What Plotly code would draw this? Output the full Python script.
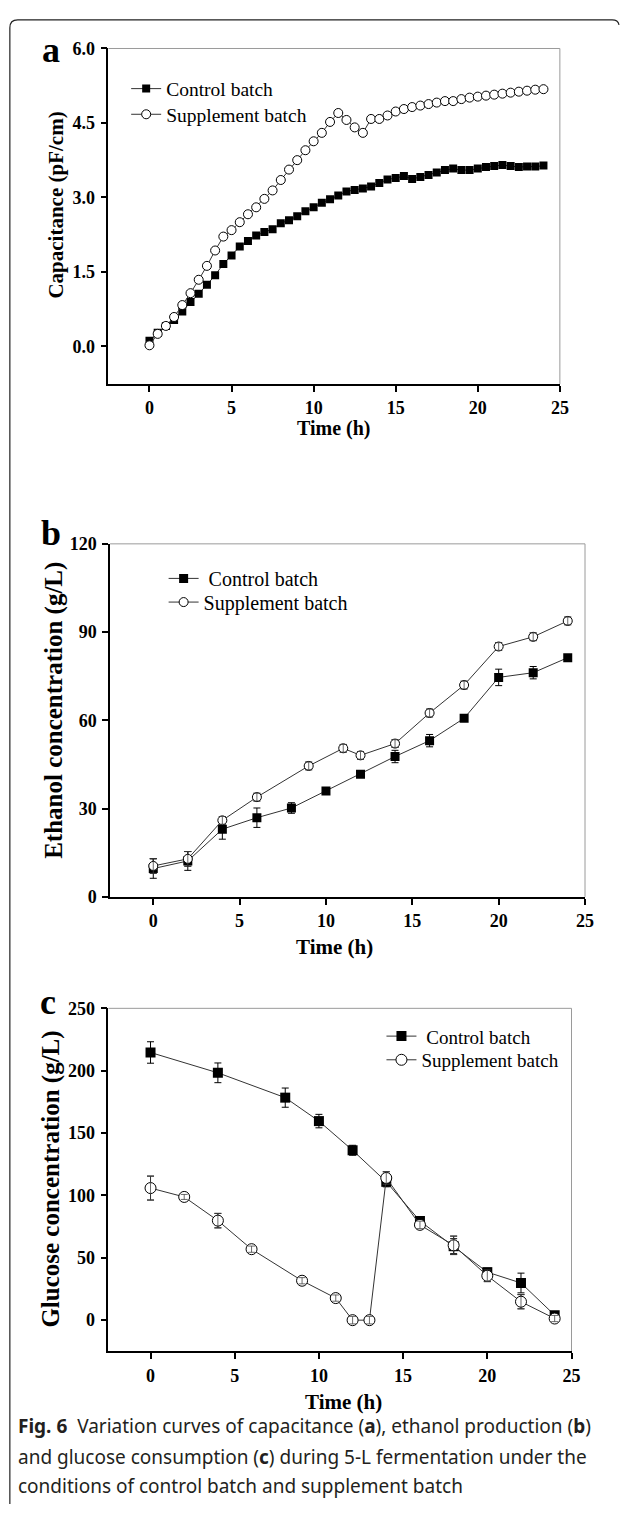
import plotly.graph_objects as go

# ---------------- data ----------------
# Panel a: capacitance (pF/cm), every 0.5 h
time_a = [0, 0.5, 1, 1.5, 2, 2.5, 3, 3.5, 4, 4.5, 5, 5.5, 6, 6.5, 7, 7.5, 8, 8.5, 9, 9.5,
          10, 10.5, 11, 11.5, 12, 12.5, 13, 13.5, 14, 14.5, 15, 15.5, 16, 16.5, 17, 17.5,
          18, 18.5, 19, 19.5, 20, 20.5, 21, 21.5, 22, 22.5, 23, 23.5, 24]
cap_control = [0.11, 0.27, 0.41, 0.53, 0.70, 0.89, 1.06, 1.24, 1.43, 1.66, 1.83, 2.01, 2.12,
               2.23, 2.30, 2.36, 2.48, 2.54, 2.62, 2.72, 2.80, 2.89, 2.96, 3.04, 3.12, 3.15,
               3.18, 3.22, 3.29, 3.36, 3.39, 3.43, 3.37, 3.41, 3.45, 3.50, 3.55, 3.58, 3.55,
               3.55, 3.58, 3.61, 3.63, 3.65, 3.63, 3.61, 3.62, 3.62, 3.64]
cap_supplement = [0.02, 0.25, 0.41, 0.59, 0.83, 1.07, 1.34, 1.62, 1.93, 2.21, 2.34, 2.50, 2.66,
                  2.80, 2.97, 3.14, 3.35, 3.56, 3.75, 3.95, 4.13, 4.30, 4.52, 4.70, 4.56, 4.41,
                  4.30, 4.58, 4.58, 4.65, 4.73, 4.78, 4.82, 4.85, 4.88, 4.91, 4.94, 4.94, 4.98,
                  5.01, 5.03, 5.05, 5.07, 5.09, 5.11, 5.13, 5.15, 5.17, 5.18]

# Panel b: ethanol (g/L)
time_b_control = [0, 2, 4, 6, 8, 10, 12, 14, 16, 18, 20, 22, 24]
eth_control = [9.6, 12.2, 23.0, 26.9, 30.2, 36.0, 41.7, 47.7, 53.1, 60.7, 74.6, 76.2, 81.3]
eth_control_err = [3.3, 3.2, 3.4, 3.3, 1.8, 0.8, 0.8, 2.1, 2.1, 0.8, 2.8, 2.1, 0.8]
time_b_supplement = [0, 2, 4, 6, 9, 11, 12, 14, 16, 18, 20, 22, 24]
eth_supplement = [10.5, 12.9, 26.0, 33.9, 44.5, 50.5, 48.1, 52.1, 62.5, 72.0, 85.1, 88.4, 93.8]
eth_supplement_err = [2.5, 2.5, 1.3, 1.3, 1.3, 1.3, 1.3, 1.3, 1.3, 1.3, 1.3, 1.3, 1.3]

# Panel c: glucose (g/L)
time_c_control = [0, 4, 8, 10, 12, 14, 16, 18, 20, 22, 24]
glu_control = [214.6, 198.3, 178.4, 159.6, 136.2, 110.9, 79.5, 59.3, 38.5, 29.8, 4.0]
glu_control_err = [8.6, 7.9, 7.7, 5.4, 4.0, 4.0, 3.0, 6.0, 3.0, 7.9, 2.0]
time_c_supplement = [0, 2, 4, 6, 9, 11, 12, 13, 14, 16, 18, 20, 22, 24]
glu_supplement = [105.9, 98.8, 79.8, 56.9, 31.6, 17.7, 0, 0, 114.0, 76.4, 60.0, 35.6, 14.8, 1.3]
glu_supplement_err = [9.6, 2.0, 5.8, 2.5, 2.5, 2.5, 3.0, 3.0, 5.0, 3.0, 7.4, 4.7, 5.7, 2.5]

x_ticks = [0, 5, 10, 15, 20, 25]
a_ticks = [0, 1.5, 3.0, 4.5, 6.0]
a_ticktext = ["0.0", "1.5", "3.0", "4.5", "6.0"]
b_ticks = [0, 30, 60, 90, 120]
c_ticks = [0, 50, 100, 150, 200, 250]

# ---------------- layout helpers ----------------
W, H = 629, 1514
def px(x):
    return x / W
def py(y):
    return 1 - y / H

SERIF = "Liberation Serif, Times New Roman, serif"
SANS = "Noto Sans, Open Sans, sans-serif"
LINE_COL = "#333333"

fig = go.Figure()

def errbar(arr):
    return dict(type="data", array=arr, visible=True, color="black", thickness=1, width=3.5)

def add_pair(xs1, ys1, xs2, ys2, xa, ya, legs, e1=None, e2=None, msq=9, mci=10,
             names=("Control batch", "Supplement batch")):
    fig.add_trace(go.Scatter(
        x=xs1, y=ys1, mode="lines+markers", name=names[0],
        line=dict(color=LINE_COL, width=1),
        marker=dict(symbol="square", size=msq, color="black", line=dict(color="black", width=0)),
        error_y=errbar(e1) if e1 else None, xaxis=xa, yaxis=ya, legend=legs[0]))
    fig.add_trace(go.Scatter(
        x=xs2, y=ys2, mode="lines+markers", name=names[1],
        line=dict(color=LINE_COL, width=1),
        marker=dict(symbol="circle", size=mci, color="white", line=dict(color="black", width=1)),
        error_y=errbar(e2) if e2 else None, xaxis=xa, yaxis=ya, legend=legs[1]))
    if e2:
        # error bars of the open circles are drawn over the markers in the original
        fig.add_trace(go.Scatter(
            x=xs2, y=ys2, mode="markers", showlegend=False, hoverinfo="skip",
            marker=dict(size=1, color="rgba(0,0,0,0)"),
            error_y=dict(type="data", array=e2, visible=True, color="#444444", thickness=0.8, width=3.5),
            xaxis=xa, yaxis=ya))

add_pair(time_a, cap_control, time_a, cap_supplement, "x", "y", ("legend", "legend4"), msq=8, mci=9)
add_pair(time_b_control, eth_control, time_b_supplement, eth_supplement, "x2", "y2", ("legend2", "legend5"),
         e1=eth_control_err, e2=eth_supplement_err, msq=9, mci=9,
         names=("\u00a0Control batch", "Supplement batch"))
add_pair(time_c_control, glu_control, time_c_supplement, glu_supplement, "x3", "y3", ("legend3", "legend6"),
         e1=glu_control_err, e2=glu_supplement_err, msq=10, mci=11,
         names=("\u00a0Control batch", "Supplement batch"))

tickfont = dict(family=SERIF, size=18, color="black", weight="bold")

def xaxis(dom, anchor):
    return dict(domain=[px(dom[0]), px(dom[1])], anchor=anchor, range=[-2.5, 25],
                tickvals=x_ticks, ticks="outside", ticklen=6, tickwidth=1.5, tickcolor="black",
                showline=True, linecolor="black", linewidth=1.5, showgrid=False, zeroline=False,
                tickfont=tickfont, ticklabelstandoff=1)

def yaxis(dom, anchor, rng, tv, tt=None):
    d = dict(domain=[py(dom[1]), py(dom[0])], anchor=anchor, range=rng,
             tickvals=tv, ticks="outside", ticklen=6, tickwidth=1.5, tickcolor="black",
             showline=True, linecolor="black", linewidth=1.5, showgrid=False, zeroline=False,
             tickfont=tickfont, ticklabelstandoff=2)
    if tt:
        d["ticktext"] = tt
    return d

def legend(xp, yrow, size):
    return dict(x=px(xp), y=py(yrow), xanchor="left", yanchor="middle",
                font=dict(family=SERIF, size=size, color="black"),
                bgcolor="rgba(0,0,0,0)", borderwidth=0, tracegroupgap=0, itemsizing="trace")

shapes = []
for xr, yr in [("x", "y"), ("x2", "y2"), ("x3", "y3")]:
    shapes.append(dict(type="line", xref=xr + " domain", yref=yr + " domain", x0=0, x1=1, y0=1, y1=1,
                       line=dict(color="#9a9a9a", width=1), layer="below"))
    shapes.append(dict(type="line", xref=xr + " domain", yref=yr + " domain", x0=1, x1=1, y0=0, y1=1,
                       line=dict(color="#9a9a9a", width=1), layer="below"))
# outer frame of the figure box (top edge with rounded corners and left edge)
border = (f"M {px(10)},{py(1514)} L {px(10)},{py(18)} Q {px(10)},{py(10)} {px(18)},{py(10)} "
          f"L {px(621)},{py(10)} Q {px(627)},{py(10)} {px(628)},{py(15)}")
shapes.append(dict(type="path", xref="paper", yref="paper", path=border,
                   line=dict(color="#222222", width=1.2)))

def tfont(size):
    return dict(family=SERIF, size=size, color="black", weight="bold")

labelfont = dict(family=SERIF, size=36, color="black", weight="bold")
capfont = dict(family=SANS, size=19, color="#231f20")

def ann(text, x, y, font, xanchor="center", yanchor="middle", **kw):
    d = dict(text=text, x=px(x), y=py(y), xref="paper", yref="paper", showarrow=False, font=font,
             xanchor=xanchor, yanchor=yanchor)
    d.update(kw)
    return d

annotations = [
    ann("a", 52, 41, labelfont),
    ann("b", 52, 530, labelfont),
    ann("c", 49, 1005, labelfont),
    ann("Time (h)", 339, 424, tfont(20)),
    ann("Time (h)", 339, 950, tfont(21)),
    ann("Time (h)", 348, 1411, tfont(21)),
    ann("Capacitance (pF/cm)", 57, 198, tfont(21), textangle=-90),
    ann("Ethanol concentration (g/L)", 54, 710, tfont(25), textangle=-90),
    ann("Glucose concentration (g/L)", 52, 1185, tfont(25), textangle=-90),
    ann("<b>Fig. 6</b>  Variation curves of capacitance (<b>a</b>), ethanol production (<b>b</b>)",
        16, 1435, capfont, xanchor="left"),
    ann("and glucose consumption (<b>c</b>) during 5-L fermentation under the",
        16, 1466, capfont, xanchor="left"),
    ann("conditions of control batch and supplement batch",
        16, 1496, capfont, xanchor="left"),
]

fig.update_layout(
    width=W, height=H, margin=dict(l=0, r=0, t=0, b=0),
    paper_bgcolor="white", plot_bgcolor="white",
    xaxis=xaxis((110, 568), "y"),
    yaxis=yaxis((39, 379), "x", [-0.76, 6.0], a_ticks, a_ticktext),
    xaxis2=xaxis((111.7, 593.5), "y2"),
    yaxis2=yaxis((541, 898.7), "x2", [0, 120], b_ticks),
    xaxis3=xaxis((110, 579.8), "y3"),
    yaxis3=yaxis((1011.7, 1359.3), "x3", [-25, 250], c_ticks),
    legend=legend(128, 80, 19.5),
    legend4=legend(128, 106, 19.5),
    legend2=legend(166, 576, 20),
    legend5=legend(166, 600, 20),
    legend3=legend(387, 1040, 19),
    legend6=legend(387, 1064, 19),
    shapes=shapes, annotations=annotations, showlegend=True,
)

post = ("var s=document.createElement('style');"
        "s.innerHTML='html,body{margin:0!important;padding:0!important;overflow:hidden!important;}"
        ".plotly-graph-div{position:fixed!important;left:0px!important;top:0px!important;}';"
        "document.head.appendChild(s);window.scrollTo(0,0);")
fig.write_html("out.html", config={"displayModeBar": False}, post_script=post)
